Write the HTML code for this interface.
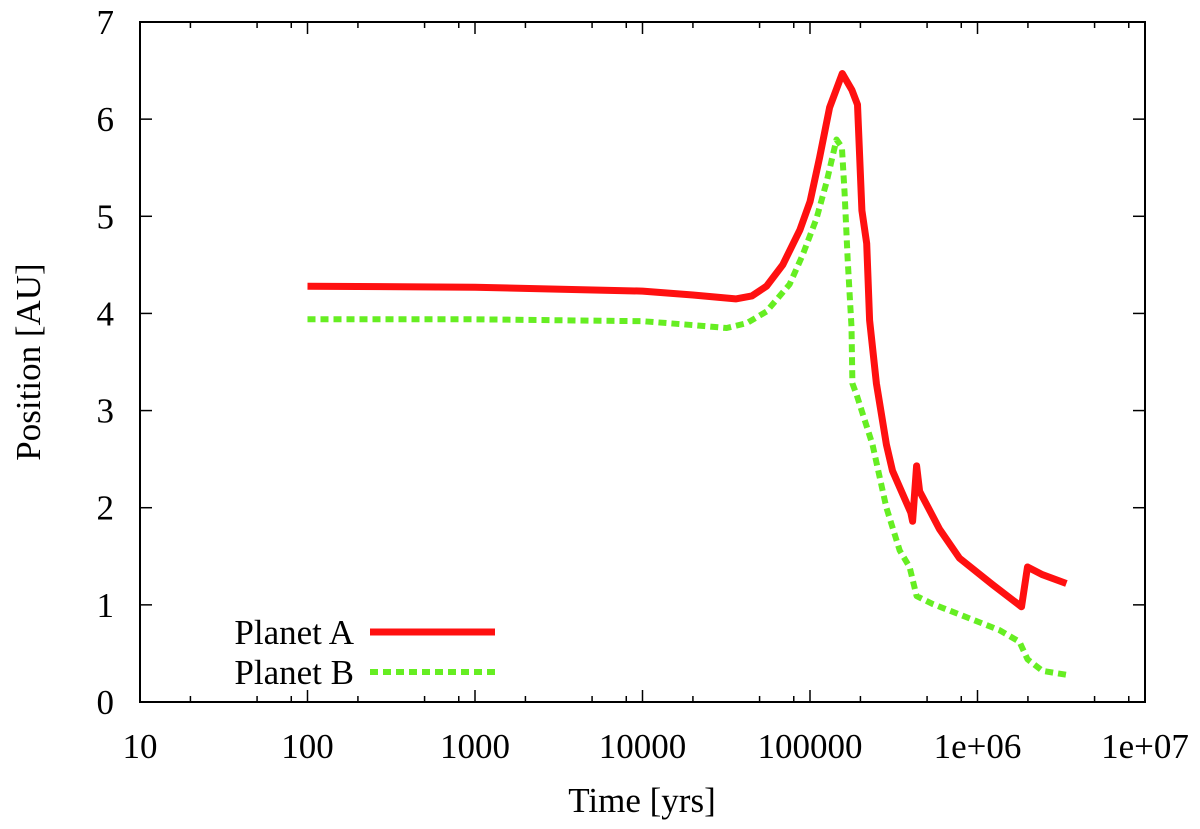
<!DOCTYPE html>
<html><head><meta charset="utf-8"><style>
body{margin:0;background:#fff;}
svg, svg text{font-family:"Liberation Serif","DejaVu Serif",serif;}
svg{display:block;}
</style></head><body>
<svg id="chart" width="1200" height="829" xmlns="http://www.w3.org/2000/svg" font-family="Liberation Serif, DejaVu Serif, serif">
<g id="axes"></g>
<g id="series"></g>
<g id="legend"></g>
</svg>
<script>
const xTicks=[10,100,1000,10000,100000,1000000,10000000];
const xTickLabels=["10","100","1000","10000","100000","1e+06","1e+07"];
const yTicks=[0,1,2,3,4,5,6,7];
const timeA=[100,1000,10000,20000,36000,45000,55000,68700,87000,100000,114000,131000,156000,178000,192000,204000,218000,227000,249000,286000,311000,343000,400000,410000,433000,451000,593000,781000,1228000,1830000,1988000,2443000,3396000];
const posA=[4.28,4.27,4.23,4.19,4.15,4.18,4.28,4.5,4.86,5.15,5.6,6.12,6.47,6.3,6.15,5.06,4.72,3.93,3.28,2.65,2.38,2.21,1.95,1.86,2.43,2.17,1.78,1.48,1.21,0.98,1.39,1.31,1.22];
const timeB=[100,1000,10000,20000,31800,42000,55000,75500,90300,109500,125500,144000,155000,161000,168000,177000,179000,190000,236000,286000,343000,393000,433000,539000,1352000,1781000,1988000,2443000,3396000];
const posB=[3.94,3.94,3.92,3.88,3.85,3.9,4.02,4.3,4.6,4.98,5.35,5.79,5.71,5.24,4.55,3.86,3.28,3.16,2.65,2.0,1.56,1.39,1.09,1.01,0.74,0.62,0.44,0.32,0.28];

const L=140,R=1145,T=22,B=702;
const FF="Liberation Serif, DejaVu Serif, serif";
const xS=t=>L+(Math.log10(t)-1)/6*(R-L);
const yS=v=>B-v/7*(B-T);
const NS="http://www.w3.org/2000/svg";
function mk(tag,attrs,parent){const e=document.createElementNS(NS,tag);for(const k in attrs)e.setAttribute(k,attrs[k]);parent.appendChild(e);return e;}
const ax=document.getElementById('axes');
const frame=mk('rect',{x:L,y:T,width:R-L,height:B-T,fill:'none',stroke:'#000','stroke-width':2},ax);


xTicks.forEach((t,i)=>{
  const x=xS(t);
  mk('line',{x1:x,y1:B,x2:x,y2:B-12,stroke:'#000','stroke-width':1.5},ax);
  mk('line',{x1:x,y1:T,x2:x,y2:T+12,stroke:'#000','stroke-width':1.5},ax);
  if(i<xTicks.length-1){[2,5,8].forEach(m=>{const xm=xS(t*m);
    mk('line',{x1:xm,y1:B,x2:xm,y2:B-6,stroke:'#000','stroke-width':1.5},ax);
    mk('line',{x1:xm,y1:T,x2:xm,y2:T+6,stroke:'#000','stroke-width':1.5},ax);});}
  const tx=mk('text',{x:x,y:B+56,'text-anchor':'middle','font-size':35,'font-family':FF},ax);
  tx.textContent=xTickLabels[i];
  
  
});
yTicks.forEach(v=>{
  const y=yS(v);
  mk('line',{x1:L,y1:y,x2:L+12,y2:y,stroke:'#000','stroke-width':1.5},ax);
  mk('line',{x1:R,y1:y,x2:R-12,y2:y,stroke:'#000','stroke-width':1.5},ax);
  const tx=mk('text',{x:L-26,y:y+12,'text-anchor':'end','font-size':35,'font-family':FF},ax);
  tx.textContent=v;
  
  
});
const xt=mk('text',{x:642,y:812,'text-anchor':'middle','font-size':35,'font-family':FF},ax);
xt.textContent='Time [yrs]';


const yt=mk('text',{x:0,y:0,'text-anchor':'middle','font-size':35,'font-family':FF,transform:'translate(40,362) rotate(-90)'},ax);
yt.textContent='Position [AU]';



const sg=document.getElementById('series');
function line(ts,vs,attrs,name){
  const d=ts.map((t,i)=>(i?'L':'M')+xS(t).toFixed(1)+','+yS(vs[i]).toFixed(1)).join(' ');
  const p=mk('path',Object.assign({d:d,fill:'none','stroke-linejoin':'round'},attrs),sg);
  
  
}
line(timeB,posB,{stroke:'#66ee22','stroke-width':6,'stroke-dasharray':'8,5'},'series-planet-b');
line(timeA,posA,{stroke:'#ff1010','stroke-width':7},'series-planet-a');

const lg=document.getElementById('legend');
[['Planet A',632,{stroke:'#ff1010','stroke-width':7}],['Planet B',672,{stroke:'#66ee22','stroke-width':6,'stroke-dasharray':'8,5'}]].forEach(([lab,y,st],i)=>{
  const t=mk('text',{x:354,y:y+12,'text-anchor':'end','font-size':35,'font-family':FF},lg);
  t.textContent=lab;
  
  
  const l=mk('line',Object.assign({x1:370,y1:y,x2:495,y2:y},st),lg);
  
  
});
</script>
</body></html>
